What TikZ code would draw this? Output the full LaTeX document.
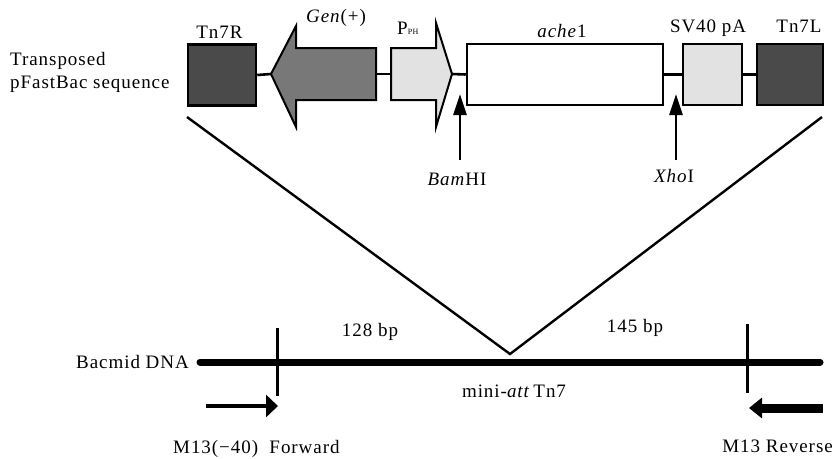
\documentclass[tikz,border=0pt]{standalone}
\usepackage{fontspec}
\setmainfont{Liberation Serif}[LetterSpace=5]
\usetikzlibrary{arrows.meta}
\definecolor{tndark}{HTML}{4A4A4A}
\definecolor{genmid}{HTML}{787878}
\definecolor{pale}{HTML}{E2E2E2}
\begin{document}
\begin{tikzpicture}[x=1pt,y=-1pt,
  lbl/.style={inner sep=0pt, font=\fontsize{19}{22}\selectfont},
  box/.style={draw, line width=2.5pt, inner sep=0pt, minimum height=61pt},
  link/.style={line width=2.6pt},
  gene/.style={draw, line width=2pt, line join=miter},
  site/.style={line width=2.7pt, -{Triangle[length=21pt, width=13pt]}},
  dna/.style={line width=7pt, line cap=round},
  tick/.style={line width=3pt}]
\useasboundingbox (0,0) rectangle (834,458);

% --- transposed cassette ---
\node[box, fill=tndark, minimum width=68pt] (tn7r) at (222,75) {};
\node[box, fill=white, minimum width=196pt] (ache) at (565,74.5) {};
\node[box, fill=pale, minimum width=59pt] (sv40) at (712.5,74.5) {};
\node[box, fill=tndark, minimum width=66pt] (tn7l) at (790,74.5) {};

% gentamicin resistance gene (leftward arrow)
\coordinate (gentip) at (271,74);
\coordinate (genback) at (376,74);
\draw[gene, fill=genmid] (genback |- 0,48) -- (296,48) -- (296,26) -- (gentip)
  -- (296,127) -- (296,100) -- (genback |- 0,100) -- cycle;
% polyhedrin promoter (rightward arrow)
\coordinate (ppback) at (391,74);
\coordinate (pptip) at (452,74);
\draw[gene, fill=pale] (ppback |- 0,48) -- (436,48) -- (436,23) -- (pptip)
  -- (436,127) -- (436,100) -- (ppback |- 0,100) -- cycle;

% backbone links between elements
\draw[link] (tn7r.east) -- (gentip);
\draw[link] (genback) -- (ppback);
\draw[link] (pptip) -- (ache.west);
\draw[link] (ache.east) -- (sv40.west);
\draw[link] (sv40.east) -- (tn7l.west);

% element labels
\node[lbl, anchor=base] (tn7rlbl) at (219.5,38) {Tn7R};
\node[lbl, anchor=base] (genlbl) at (336,22) {\textit{Gen}(+)};
\node[lbl, anchor=base west] (pplbl) at (397,34) {P{\fontsize{8}{9}\selectfont PH}};
\node[lbl, anchor=base] (achelbl) at (562,37) {\textit{ache}1};
\node[lbl, anchor=base] (sv40lbl) at (708,32) {SV40 pA};
\node[lbl, anchor=base] (tn7llbl) at (799,32) {Tn7L};
\node[lbl, anchor=base west] (tplbl) at (10,65) {Transposed};
\node[lbl, anchor=base west] (tplbl2) at (10,88) {pFastBac sequence};

% restriction sites
\coordinate (bamfoot) at (460,160);
\coordinate (bamtip) at (460,94);
\coordinate (xhofoot) at (676,160);
\coordinate (xhotip) at (676,94);
\draw[site] (bamfoot) -- (bamtip);
\draw[site] (xhofoot) -- (xhotip);
\node[lbl, anchor=base] (bamlbl) at (457,185) {\textit{Bam}HI};
\node[lbl, anchor=base] (xholbl) at (674,182) {\textit{Xho}I};

% insertion into the attachment site
\coordinate (vl) at (187,117);
\coordinate (vb) at (510,354);
\coordinate (vr) at (822,117);
\draw[link, line width=2.4pt, line join=miter] (vl) -- (vb) -- (vr);

% --- bacmid ---
\coordinate (dnaL) at (200,362);
\coordinate (dnaR) at (820,362);
\draw[dna] (dnaL) -- (dnaR);
\coordinate (tlTop) at (277,328);
\coordinate (tlBot) at (277,396);
\coordinate (trTop) at (747,324);
\coordinate (trBot) at (747,393);
\draw[tick] (tlTop) -- (tlBot);
\draw[tick] (trTop) -- (trBot);

% primers
\coordinate (fwdS) at (206,406);
\coordinate (fwdE) at (278,406);
\coordinate (revS) at (823,408);
\coordinate (revE) at (749,408);
\draw[line width=4pt, -{Triangle[length=12pt, width=22pt]}] (fwdS) -- (fwdE);
\draw[line width=9pt, -{Triangle[length=13pt, width=20pt]}] (revS) -- (revE);

% bacmid labels
\node[lbl, anchor=base east] (bacmid) at (189,368) {Bacmid DNA};
\node[lbl, anchor=base] (bp128) at (370,336) {128 bp};
\node[lbl, anchor=base] (bp145) at (635,332) {145 bp};
\node[lbl, anchor=base] (att) at (514,397) {mini-\textit{att}\,Tn7};
\node[lbl, anchor=base west] (fwdlbl) at (173,453) {M13(−40)\ \ Forward};
\node[lbl, anchor=base east] (revlbl) at (833,452) {M13 Reverse};
\end{tikzpicture}
\end{document}
